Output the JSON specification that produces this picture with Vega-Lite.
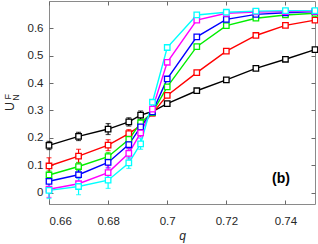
{
  "$schema": "https://vega.github.io/schema/vega-lite/v6.json",
  "width": 266,
  "height": 203,
  "autosize": "none",
  "padding": {"left": 49, "top": 1, "right": 3, "bottom": 40},
  "config": {
    "view": {"stroke": "#8a8a8a", "strokeWidth": 1},
    "axis": {"labelFont": "Liberation Sans", "labelFontSize": 11.5, "labelColor": "#262626", "tickColor": "#6a6a6a", "tickSize": -4, "domain": false, "grid": false, "titleFont": "Liberation Sans"}
  },
  "data": {"values": [
    {"s": "s1", "q": 0.66, "u": 0.172, "e": 0.015},
    {"s": "s1", "q": 0.67, "u": 0.205, "e": 0.015},
    {"s": "s1", "q": 0.68, "u": 0.232, "e": 0.02},
    {"s": "s1", "q": 0.687, "u": 0.258, "e": 0.015},
    {"s": "s1", "q": 0.691, "u": 0.283, "e": 0.015},
    {"s": "s1", "q": 0.695, "u": 0.296, "e": 0.01},
    {"s": "s1", "q": 0.70, "u": 0.325, "e": 0},
    {"s": "s1", "q": 0.71, "u": 0.372, "e": 0},
    {"s": "s1", "q": 0.72, "u": 0.412, "e": 0},
    {"s": "s1", "q": 0.73, "u": 0.454, "e": 0},
    {"s": "s1", "q": 0.74, "u": 0.487, "e": 0},
    {"s": "s1", "q": 0.75, "u": 0.522, "e": 0},
    {"s": "s2", "q": 0.66, "u": 0.097, "e": 0.03},
    {"s": "s2", "q": 0.67, "u": 0.133, "e": 0.025},
    {"s": "s2", "q": 0.68, "u": 0.173, "e": 0.02},
    {"s": "s2", "q": 0.687, "u": 0.215, "e": 0.015},
    {"s": "s2", "q": 0.691, "u": 0.245, "e": 0.015},
    {"s": "s2", "q": 0.695, "u": 0.290, "e": 0.01},
    {"s": "s2", "q": 0.70, "u": 0.355, "e": 0},
    {"s": "s2", "q": 0.71, "u": 0.438, "e": 0},
    {"s": "s2", "q": 0.72, "u": 0.517, "e": 0},
    {"s": "s2", "q": 0.73, "u": 0.574, "e": 0},
    {"s": "s2", "q": 0.74, "u": 0.611, "e": 0},
    {"s": "s2", "q": 0.75, "u": 0.630, "e": 0},
    {"s": "s3", "q": 0.66, "u": 0.064, "e": 0.015},
    {"s": "s3", "q": 0.67, "u": 0.095, "e": 0.015},
    {"s": "s3", "q": 0.68, "u": 0.131, "e": 0.015},
    {"s": "s3", "q": 0.687, "u": 0.194, "e": 0.015},
    {"s": "s3", "q": 0.691, "u": 0.255, "e": 0.01},
    {"s": "s3", "q": 0.695, "u": 0.292, "e": 0},
    {"s": "s3", "q": 0.70, "u": 0.386, "e": 0},
    {"s": "s3", "q": 0.71, "u": 0.533, "e": 0},
    {"s": "s3", "q": 0.72, "u": 0.610, "e": 0},
    {"s": "s3", "q": 0.73, "u": 0.637, "e": 0},
    {"s": "s3", "q": 0.74, "u": 0.649, "e": 0},
    {"s": "s3", "q": 0.75, "u": 0.655, "e": 0},
    {"s": "s4", "q": 0.66, "u": 0.041, "e": 0.02},
    {"s": "s4", "q": 0.67, "u": 0.065, "e": 0.025},
    {"s": "s4", "q": 0.68, "u": 0.110, "e": 0.02},
    {"s": "s4", "q": 0.687, "u": 0.175, "e": 0.015},
    {"s": "s4", "q": 0.691, "u": 0.240, "e": 0.015},
    {"s": "s4", "q": 0.695, "u": 0.295, "e": 0},
    {"s": "s4", "q": 0.70, "u": 0.415, "e": 0},
    {"s": "s4", "q": 0.71, "u": 0.569, "e": 0},
    {"s": "s4", "q": 0.72, "u": 0.633, "e": 0},
    {"s": "s4", "q": 0.73, "u": 0.651, "e": 0},
    {"s": "s4", "q": 0.74, "u": 0.657, "e": 0},
    {"s": "s4", "q": 0.75, "u": 0.661, "e": 0},
    {"s": "s5", "q": 0.66, "u": 0.012, "e": 0.03},
    {"s": "s5", "q": 0.67, "u": 0.032, "e": 0.02},
    {"s": "s5", "q": 0.68, "u": 0.073, "e": 0.025},
    {"s": "s5", "q": 0.687, "u": 0.143, "e": 0.02},
    {"s": "s5", "q": 0.691, "u": 0.218, "e": 0.015},
    {"s": "s5", "q": 0.695, "u": 0.305, "e": 0},
    {"s": "s5", "q": 0.70, "u": 0.476, "e": 0},
    {"s": "s5", "q": 0.71, "u": 0.630, "e": 0},
    {"s": "s5", "q": 0.72, "u": 0.655, "e": 0},
    {"s": "s5", "q": 0.73, "u": 0.660, "e": 0},
    {"s": "s5", "q": 0.74, "u": 0.661, "e": 0},
    {"s": "s5", "q": 0.75, "u": 0.662, "e": 0},
    {"s": "s6", "q": 0.66, "u": 0.008, "e": 0.03},
    {"s": "s6", "q": 0.67, "u": 0.022, "e": 0.03},
    {"s": "s6", "q": 0.68, "u": 0.045, "e": 0.03},
    {"s": "s6", "q": 0.687, "u": 0.108, "e": 0.02},
    {"s": "s6", "q": 0.691, "u": 0.178, "e": 0.02},
    {"s": "s6", "q": 0.695, "u": 0.330, "e": 0},
    {"s": "s6", "q": 0.70, "u": 0.530, "e": 0},
    {"s": "s6", "q": 0.71, "u": 0.649, "e": 0},
    {"s": "s6", "q": 0.72, "u": 0.659, "e": 0},
    {"s": "s6", "q": 0.73, "u": 0.663, "e": 0},
    {"s": "s6", "q": 0.74, "u": 0.665, "e": 0},
    {"s": "s6", "q": 0.75, "u": 0.665, "e": 0}
  ]},
  "resolve": {"axis": {"x": "independent", "y": "independent"}},
  "layer": [
    {
      "mark": {"type": "line", "strokeWidth": 1.4},
      "encoding": {
        "x": {"field": "q", "type": "quantitative", "scale": {"domain": [0.66, 0.75], "nice": false, "zero": false},
              "axis": {"orient": "bottom", "values": [0.66, 0.68, 0.70, 0.72, 0.74], "format": "~g", "labelPadding": 15, "title": "q", "titleFontStyle": "italic", "titleFontWeight": "normal", "titleFontSize": 12, "titleColor": "#262626", "titlePadding": 4}},
        "y": {"field": "u", "type": "quantitative", "scale": {"domain": [-0.042, 0.70], "nice": false, "zero": false},
              "axis": {"orient": "left", "values": [0, 0.1, 0.2, 0.3, 0.4, 0.5, 0.6], "format": "~g", "labelPadding": 10, "title": null}},
        "color": {"field": "s", "type": "nominal", "legend": null,
                  "scale": {"domain": ["s1", "s2", "s3", "s4", "s5", "s6"], "range": ["#000000", "#ff0000", "#00ee00", "#0000ff", "#ff00ff", "#00ffff"]}}
      }
    },
    {
      "transform": [{"filter": "datum.e > 0"}],
      "mark": {"type": "errorbar", "ticks": {"size": 5}, "thickness": 1.2},
      "encoding": {
        "x": {"field": "q", "type": "quantitative", "axis": null},
        "y": {"field": "u", "type": "quantitative", "axis": null},
        "yError": {"field": "e"},
        "color": {"field": "s", "type": "nominal", "legend": null}
      }
    },
    {
      "mark": {"type": "point", "shape": "square", "filled": false, "fill": "white", "fillOpacity": 1, "size": 30, "strokeWidth": 1.3, "opacity": 1},
      "encoding": {
        "x": {"field": "q", "type": "quantitative",
              "axis": {"orient": "top", "values": [0.66, 0.68, 0.70, 0.72, 0.74], "labels": false, "title": null}},
        "y": {"field": "u", "type": "quantitative",
              "axis": {"orient": "right", "values": [0, 0.1, 0.2, 0.3, 0.4, 0.5, 0.6], "labels": false, "title": null}},
        "color": {"field": "s", "type": "nominal", "legend": null}
      }
    },
    {
      "data": {"values": [{"t": "(b)"}]},
      "mark": {"type": "text", "font": "Liberation Sans", "fontSize": 14, "fontWeight": "bold", "align": "center", "baseline": "middle", "fill": "#000000"},
      "encoding": {
        "text": {"field": "t"},
        "x": {"datum": 0.7385, "type": "quantitative", "axis": null},
        "y": {"datum": 0.051, "type": "quantitative", "axis": null}
      }
    },
    {
      "data": {"values": [{"t": "U"}]},
      "mark": {"type": "text", "font": "Liberation Sans", "fontSize": 12.5, "angle": 270, "align": "center", "baseline": "middle", "fill": "#262626"},
      "encoding": {
        "text": {"field": "t"},
        "x": {"datum": 0.64697, "type": "quantitative", "axis": null},
        "y": {"datum": 0.3147, "type": "quantitative", "axis": null}
      }
    },
    {
      "data": {"values": [{"t": "F"}]},
      "mark": {"type": "text", "font": "Liberation Sans", "fontSize": 9, "angle": 270, "align": "center", "baseline": "middle", "fill": "#262626"},
      "encoding": {
        "text": {"field": "t"},
        "x": {"datum": 0.64596, "type": "quantitative", "axis": null},
        "y": {"datum": 0.3498, "type": "quantitative", "axis": null}
      }
    },
    {
      "data": {"values": [{"t": "N"}]},
      "mark": {"type": "text", "font": "Liberation Sans", "fontSize": 9, "angle": 270, "align": "center", "baseline": "middle", "fill": "#262626"},
      "encoding": {
        "text": {"field": "t"},
        "x": {"datum": 0.64867, "type": "quantitative", "axis": null},
        "y": {"datum": 0.3469, "type": "quantitative", "axis": null}
      }
    }
  ]
}
